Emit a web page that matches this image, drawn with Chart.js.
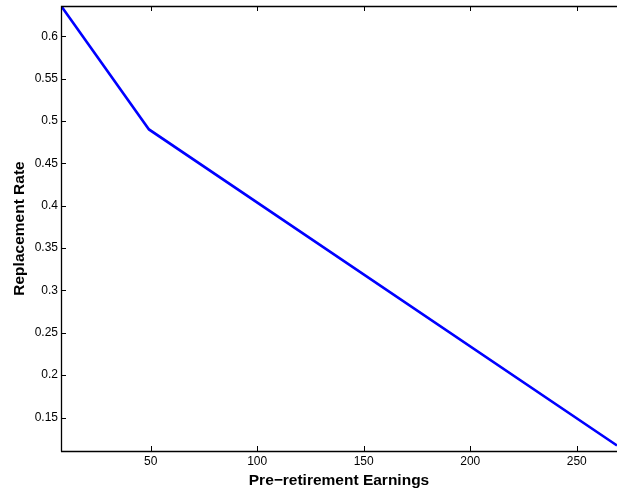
<!DOCTYPE html>
<html>
<head>
<meta charset="utf-8">
<script src="https://cdn.jsdelivr.net/npm/chart.js@4/dist/chart.umd.min.js"></script>
<style>
  html, body { margin: 0; padding: 0; background: #fff; }
  #wrap { width: 617px; height: 490px; }
</style>
</head>
<body>
<div id="wrap"><canvas id="myChart" width="617" height="490"></canvas></div>
<script>
// values
const earnings = [7.9, 49.2, 268.9];
const rates = [0.636, 0.49, 0.117];
const xTicks = [50, 100, 150, 200, 250];
const yTicks = [0.15, 0.2, 0.25, 0.3, 0.35, 0.4, 0.45, 0.5, 0.55, 0.6];

const font = 'Liberation Sans, Arial, Helvetica, sans-serif';

// matlab style frame with inward ticks
const frame = {
  id: 'frame',
  afterDraw(chart) {
    const ctx = chart.ctx;
    const a = chart.chartArea;
    const xs = chart.scales.x, ys = chart.scales.y;
    ctx.save();
    ctx.strokeStyle = '#000';
    ctx.lineWidth = 1.3;
    ctx.beginPath();
    ctx.moveTo(a.left + 0.5, a.bottom + 0.5);
    ctx.lineTo(a.left + 0.5, a.top + 0.5);
    ctx.lineTo(a.right + 2, a.top + 0.5);
    ctx.moveTo(a.left, a.bottom + 0.5);
    ctx.lineTo(a.right + 2, a.bottom + 0.5);
    ctx.stroke();
    ctx.lineWidth = 1;
    ctx.beginPath();
    xTicks.forEach(v => {
      const px = Math.round(xs.getPixelForValue(v)) + 0.5;
      ctx.moveTo(px, a.bottom);
      ctx.lineTo(px, a.bottom - 5);
      ctx.moveTo(px, a.top);
      ctx.lineTo(px, a.top + 5);
    });
    yTicks.forEach(v => {
      const py = Math.round(ys.getPixelForValue(v)) + 0.5;
      ctx.moveTo(a.left, py);
      ctx.lineTo(a.left + 5, py);
    });
    ctx.stroke();
    ctx.restore();
  }
};

const data = {
  datasets: [{
    data: earnings.map((e, i) => ({ x: e, y: rates[i] })),
    borderColor: 'rgb(0, 0, 255)',
    borderWidth: 2.6,
    pointRadius: 0,
    fill: false,
    tension: 0
  }]
};

const config = {
  type: 'line',
  data,
  options: {
    responsive: false,
    animation: false,
    layout: { padding: { top: 6, right: 0, left: 0, bottom: 0 } },
    plugins: { legend: { display: false }, tooltip: { enabled: false } },
    scales: {
      x: {
        type: 'linear',
        min: 7.9,
        max: 268.9,
        afterBuildTicks: s => { s.ticks = xTicks.map(v => ({ value: v })); },
        afterFit: s => { s.height = 39; s.paddingLeft = 0; s.paddingRight = 0; },
        grid: { display: false, drawTicks: false },
        border: { display: false },
        ticks: { color: '#000', padding: 3, font: { family: font, size: 12 }, maxRotation: 0 },
        title: {
          display: true,
          text: 'Pre\u2212retirement Earnings',
          color: '#000',
          font: { family: font, size: 15.5, weight: 'bold' },
          padding: { top: 0, bottom: 0 }
        }
      },
      y: {
        type: 'linear',
        min: 0.1105,
        max: 0.6357,
        afterBuildTicks: s => { s.ticks = yTicks.map(v => ({ value: v })); },
        afterFit: s => { s.width = 61; s.paddingTop = 0; s.paddingBottom = 0; },
        grid: { display: false, drawTicks: false },
        border: { display: false },
        ticks: {
          color: '#000', padding: 3, font: { family: font, size: 12 },
          callback: v => String(Math.round(v * 100) / 100)
        },
        title: {
          display: true,
          text: 'Replacement Rate',
          color: '#000',
          font: { family: font, size: 15.5, weight: 'bold' },
          padding: { top: 10, bottom: 0 }
        }
      }
    }
  },
  plugins: [frame]
};

var myChart = new Chart(
  document.getElementById('myChart'),
  config
);
</script>
</body>
</html>
